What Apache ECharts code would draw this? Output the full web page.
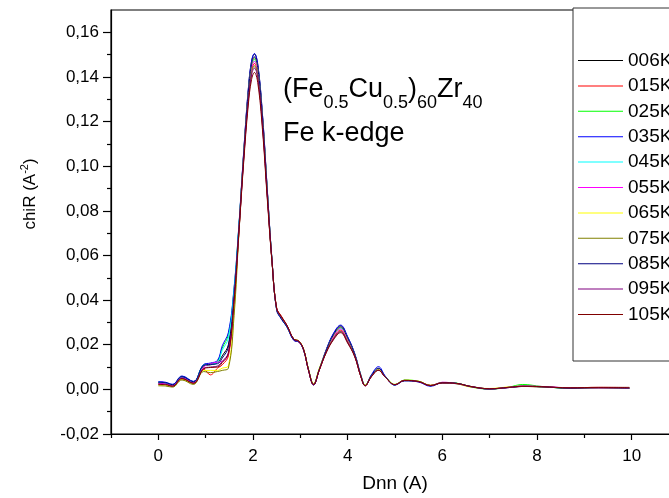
<!DOCTYPE html>
<html>
<head>
<meta charset="utf-8">
<script src="https://cdn.jsdelivr.net/npm/echarts@6/dist/echarts.min.js"></script>
<style>html,body{margin:0;padding:0;background:#fff}#c{width:669px;height:498px}</style>
</head>
<body>
<div id="c"></div>
<script>
var xs = [0,0.15,0.3,0.5,0.74,0.96,1.1,1.25,1.35,1.48,1.6,1.7,1.8,1.9,1.97,2.03,2.1,2.2,2.3,2.4,2.5,2.6,2.72,2.86,2.97,3.07,3.17,3.28,3.4,3.55,3.7,3.85,4.0,4.15,4.28,4.37,4.5,4.65,4.8,5.0,5.2,5.5,5.75,6.0,6.3,6.6,7.0,7.4,7.7,8.1,8.7,9.3,9.95];

var names = ['006K','015K','025K','035K','045K','055K','065K','075K','085K','095K','105K'];
var colors = ['#000000','#ff0000','#00ff00','#0000ff','#00ffff','#ff00ff','#ffff00','#808000','#000080','#800080','#800000'];

var y006K = [0.0030,0.0028,0.0020,0.0055,0.0032,0.0105,0.0110,0.0120,0.0150,0.0200,0.0420,0.0720,
  0.1050,0.1340,0.1470,0.1503,0.1455,0.1230,0.0900,
  0.0580,0.0360,0.0320,0.0282,0.0225,0.0215,0.0178,0.0090,0.0022,0.0088,
  0.0178,0.0248,0.0285,0.0233,0.0158,
  0.0060,0.0018,0.0060,0.0093,0.0055,0.0020,0.0040,0.0035,0.0017,0.0030,0.0027,0.0013,0.0002,0.0009,0.0014,0.0012,0.0006,0.0008,0.0005];
var y015K = [0.0025,0.0024,0.0016,0.0048,0.0028,0.0090,0.0065,0.0095,0.0110,0.0150,0.0380,0.0700,
  0.1029,0.1306,0.1428,0.1460,0.1414,0.1196,0.0879,
  0.0578,0.0365,0.0328,0.0285,0.0222,0.0212,0.0175,0.0088,0.0020,0.0086,
  0.0170,0.0231,0.0265,0.0216,0.0150,
  0.0056,0.0016,0.0057,0.0087,0.0053,0.0021,0.0041,0.0034,0.0018,0.0029,0.0026,0.0012,0.0003,0.0008,0.0013,0.0011,0.0007,0.0009,0.0008];
var y025K = [0.0030,0.0029,0.0021,0.0057,0.0034,0.0110,0.0115,0.0125,0.0185,0.0245,0.0450,0.0725,
  0.1039,0.1322,0.1448,0.1480,0.1433,0.1212,0.0889,
  0.0582,0.0358,0.0318,0.0280,0.0224,0.0214,0.0176,0.0092,0.0024,0.0092,
  0.0174,0.0240,0.0275,0.0225,0.0154,
  0.0062,0.0019,0.0061,0.0090,0.0056,0.0022,0.0042,0.0036,0.0016,0.0031,0.0028,0.0011,0.0001,0.0010,0.0022,0.0013,0.0005,0.0007,0.0004];
var y035K = [0.0035,0.0032,0.0023,0.0060,0.0036,0.0112,0.0118,0.0130,0.0195,0.0255,0.0455,0.0730,
  0.1055,0.1345,0.1472,0.1505,0.1458,0.1232,0.0902,
  0.0585,0.0355,0.0315,0.0278,0.0220,0.0212,0.0175,0.0090,0.0020,0.0090,
  0.0180,0.0251,0.0288,0.0236,0.0160,
  0.0064,0.0017,0.0065,0.0102,0.0058,0.0019,0.0038,0.0033,0.0014,0.0029,0.0025,0.0012,0.0002,0.0008,0.0013,0.0012,0.0006,0.0007,0.0005];
var y045K = [0.0029,0.0027,0.0020,0.0055,0.0033,0.0108,0.0112,0.0120,0.0175,0.0230,0.0440,0.0722,
  0.1039,0.1322,0.1448,0.1480,0.1433,0.1212,0.0889,
  0.0581,0.0358,0.0318,0.0280,0.0223,0.0214,0.0177,0.0090,0.0023,0.0090,
  0.0174,0.0240,0.0275,0.0225,0.0154,
  0.0061,0.0018,0.0060,0.0090,0.0055,0.0020,0.0040,0.0036,0.0017,0.0030,0.0027,0.0013,0.0003,0.0009,0.0014,0.0011,0.0006,0.0008,0.0006];
var y055K = [0.0027,0.0025,0.0018,0.0052,0.0030,0.0100,0.0115,0.0122,0.0125,0.0160,0.0390,0.0705,
  0.1034,0.1314,0.1438,0.1470,0.1423,0.1204,0.0884,
  0.0579,0.0360,0.0322,0.0283,0.0224,0.0214,0.0177,0.0089,0.0022,0.0088,
  0.0172,0.0235,0.0270,0.0220,0.0152,
  0.0058,0.0017,0.0058,0.0088,0.0054,0.0021,0.0040,0.0035,0.0017,0.0032,0.0026,0.0012,0.0002,0.0010,0.0015,0.0013,0.0007,0.0006,0.0005];
var y065K = [0.0020,0.0019,0.0013,0.0045,0.0025,0.0085,0.0085,0.0085,0.0095,0.0105,0.0350,0.0700,
  0.1041,0.1326,0.1453,0.1485,0.1438,0.1216,0.0891,
  0.0580,0.0360,0.0320,0.0282,0.0226,0.0217,0.0180,0.0093,0.0026,0.0094,
  0.0175,0.0242,0.0278,0.0227,0.0155,
  0.0062,0.0020,0.0061,0.0089,0.0055,0.0022,0.0041,0.0037,0.0018,0.0030,0.0025,0.0010,0.0004,0.0011,0.0014,0.0012,0.0006,0.0008,0.0005];
var y075K = [0.0016,0.0015,0.0010,0.0042,0.0022,0.0080,0.0075,0.0080,0.0085,0.0095,0.0330,0.0690,
  0.1024,0.1298,0.1419,0.1450,0.1404,0.1188,0.0874,
  0.0576,0.0362,0.0324,0.0284,0.0226,0.0216,0.0179,0.0091,0.0024,0.0089,
  0.0168,0.0227,0.0260,0.0212,0.0148,
  0.0057,0.0017,0.0058,0.0086,0.0054,0.0021,0.0039,0.0036,0.0018,0.0029,0.0026,0.0013,0.0002,0.0009,0.0013,0.0011,0.0006,0.0007,0.0006];
var y085K = [0.0032,0.0030,0.0021,0.0057,0.0034,0.0108,0.0112,0.0115,0.0140,0.0190,0.0420,0.0715,
  0.1044,0.1330,0.1457,0.1490,0.1443,0.1220,0.0894,
  0.0583,0.0357,0.0316,0.0279,0.0221,0.0213,0.0176,0.0089,0.0021,0.0089,
  0.0176,0.0244,0.0280,0.0229,0.0156,
  0.0061,0.0017,0.0062,0.0095,0.0056,0.0020,0.0039,0.0034,0.0016,0.0030,0.0027,0.0012,0.0002,0.0009,0.0014,0.0012,0.0005,0.0008,0.0005];
var y095K = [0.0024,0.0023,0.0015,0.0050,0.0028,0.0095,0.0100,0.0105,0.0125,0.0165,0.0400,0.0700,
  0.1019,0.1290,0.1409,0.1440,0.1395,0.1180,0.0869,
  0.0577,0.0362,0.0324,0.0285,0.0225,0.0215,0.0178,0.0089,0.0022,0.0087,
  0.0167,0.0225,0.0258,0.0210,0.0147,
  0.0057,0.0016,0.0057,0.0086,0.0053,0.0021,0.0040,0.0035,0.0017,0.0029,0.0026,0.0013,0.0003,0.0008,0.0013,0.0012,0.0007,0.0008,0.0006];
var y105K = [0.0022,0.0021,0.0014,0.0048,0.0027,0.0092,0.0098,0.0100,0.0120,0.0160,0.0395,0.0695,
  0.1009,0.1274,0.1389,0.1420,0.1375,0.1164,0.0859,
  0.0575,0.0364,0.0326,0.0286,0.0226,0.0216,0.0178,0.0088,0.0021,0.0086,
  0.0166,0.0222,0.0254,0.0207,0.0146,
  0.0056,0.0016,0.0056,0.0085,0.0053,0.0021,0.0040,0.0035,0.0017,0.0029,0.0027,0.0013,0.0003,0.0009,0.0014,0.0012,0.0007,0.0009,0.0009];

var ySeries = [y006K,y015K,y025K,y035K,y045K,y055K,y065K,y075K,y085K,y095K,y105K];
var xMajorTicks = [0,2,4,6,8,10];
var xMinorTicks = [-1,1,3,5,7,9,11];
var yMajorTicks = [-0.02,0,0.02,0.04,0.06,0.08,0.10,0.12,0.14,0.16];
var yMinorTicks = [-0.01,0.01,0.03,0.05,0.07,0.09,0.11,0.13,0.15];

var FONT = 'Liberation Sans, Arial, Helvetica, sans-serif';
var chart = echarts.init(document.getElementById('c'), null, {renderer:'canvas'});

var series = names.map(function(n, k){
  return {
    name: n, type: 'line', xAxisIndex: 0, yAxisIndex: 0,
    data: xs.map(function(x, i){ return [x, ySeries[k][i]]; }),
    showSymbol: false, symbol: 'none', smooth: 0.4, clip: true,
    lineStyle: {color: colors[k], width: 1},
    itemStyle: {color: colors[k]},
    emphasis: {disabled: true}, animation: false
  };
});

var axisLineStyle = {color:'#000', width:1.2};
var fmt = function(v){ return v.toFixed(2).replace('.', ','); };

var option = {
  animation: false,
  backgroundColor: '#fff',
  textStyle: {fontFamily: FONT},
  grid: {left: 111, width: 568, top: 10, height: 424, containLabel: false, outerBoundsMode: 'none',
         show: true, borderColor: '#000', borderWidth: 1.2, backgroundColor: 'transparent'},
  xAxis: [{
    type: 'value', min: -1, max: 11,
    axisLine: {show: true, onZero: false, lineStyle: axisLineStyle},
    axisTick: {show: true, length: 6, inside: false, lineStyle: axisLineStyle, customValues: xMajorTicks},
    axisLabel: {show: true, fontSize: 17, color: '#000', margin: 14, fontFamily: FONT, customValues: xMajorTicks},
    splitLine: {show: false},
    name: 'Dnn (A)', nameLocation: 'middle', nameGap: 40,
    nameTextStyle: {fontSize: 19, color: '#000', fontFamily: FONT}
  },{
    type: 'value', min: -1, max: 11, position: 'bottom',
    axisLine: {show: false, onZero: false},
    axisTick: {show: true, length: 4, inside: false, lineStyle: axisLineStyle, customValues: xMinorTicks},
    axisLabel: {show: false},
    splitLine: {show: false}
  }],
  yAxis: [{
    type: 'value', min: -0.02, max: 0.17, position: 'left',
    axisLine: {show: true, onZero: false, lineStyle: axisLineStyle},
    axisTick: {show: true, length: 8, inside: false, lineStyle: axisLineStyle, customValues: yMajorTicks},
    axisLabel: {fontSize: 17, color: '#000', margin: 12, fontFamily: FONT, customValues: yMajorTicks, formatter: fmt},
    splitLine: {show: false}
  },{
    type: 'value', min: -0.02, max: 0.17, position: 'left',
    axisLine: {show: false, onZero: false},
    axisTick: {show: true, length: 4, inside: false, lineStyle: axisLineStyle, customValues: yMinorTicks},
    axisLabel: {show: false},
    splitLine: {show: false}
  }],
  legend: {
    orient: 'vertical', left: 573, top: 8,
    padding: [43, 80, 37, 5],
    itemWidth: 45, itemHeight: 1, itemGap: 6.4,
    icon: 'rect',
    borderColor: '#333', borderWidth: 1, backgroundColor: '#fff',
    textStyle: {fontSize: 19, lineHeight: 18, color: '#000', fontFamily: FONT},
    data: names, selectedMode: false
  },
  graphic: [
    {type: 'text', x: 283, y: 90, z: 100,
     style: {text: '{m|(Fe}{s|0.5}{m|Cu}{s|0.5}{m|)}{s|60}{m|Zr}{s|40}', verticalAlign: 'middle',
       rich: {m: {fontSize: 27, fontFamily: FONT, fill: '#000', lineHeight: 30},
              s: {fontSize: 18, fontFamily: FONT, fill: '#000', lineHeight: 20, padding: [26,0,0,0]}}}},
    {type: 'text', x: 283, y: 134, z: 100,
     style: {text: 'Fe k-edge', font: '27px ' + FONT, fill: '#000', verticalAlign: 'middle'}},
    {type: 'text', x: 30, y: 194, rotation: Math.PI/2, z: 100,
     style: {text: '{m|chiR (A}{p|-2}{m|)}', align: 'center', verticalAlign: 'middle',
       rich: {m: {fontSize: 17, fontFamily: FONT, fill: '#000', lineHeight: 20},
              p: {fontSize: 11, fontFamily: FONT, fill: '#000', lineHeight: 14, padding: [0,0,10,0]}}}}
  ],
  series: series
};
chart.setOption(option);
</script>
</body>
</html>
